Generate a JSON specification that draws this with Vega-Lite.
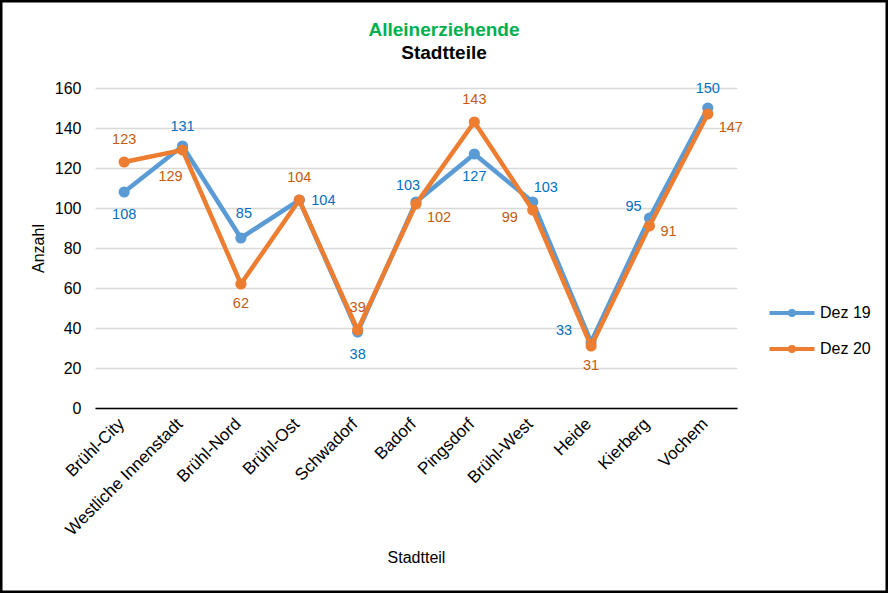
{
  "$schema": "https://vega.github.io/schema/vega-lite/v6.json",
  "width": 888,
  "height": 593,
  "autosize": "none",
  "padding": 0,
  "background": "white",
  "config": {
    "view": {"stroke": "black", "strokeWidth": 5},
    "font": "Liberation Sans"
  },
  "title": {
    "text": "Alleinerziehende",
    "subtitle": "Stadtteile",
    "frame": "group",
    "anchor": "middle",
    "offset": -63,
    "font": "Liberation Sans",
    "fontSize": 19,
    "fontWeight": "bold",
    "color": "#00B050",
    "subtitleFont": "Liberation Sans",
    "subtitleFontSize": 19,
    "subtitleFontWeight": "bold",
    "subtitleColor": "#000000",
    "subtitlePadding": 4
  },
  "data": {
    "values": [
      {"Stadtteil": "Brühl-City", "Serie": "Dez 19", "Anzahl": 108},
      {"Stadtteil": "Westliche Innenstadt", "Serie": "Dez 19", "Anzahl": 131},
      {"Stadtteil": "Brühl-Nord", "Serie": "Dez 19", "Anzahl": 85},
      {"Stadtteil": "Brühl-Ost", "Serie": "Dez 19", "Anzahl": 104},
      {"Stadtteil": "Schwadorf", "Serie": "Dez 19", "Anzahl": 38},
      {"Stadtteil": "Badorf", "Serie": "Dez 19", "Anzahl": 103},
      {"Stadtteil": "Pingsdorf", "Serie": "Dez 19", "Anzahl": 127},
      {"Stadtteil": "Brühl-West", "Serie": "Dez 19", "Anzahl": 103},
      {"Stadtteil": "Heide", "Serie": "Dez 19", "Anzahl": 33},
      {"Stadtteil": "Kierberg", "Serie": "Dez 19", "Anzahl": 95},
      {"Stadtteil": "Vochem", "Serie": "Dez 19", "Anzahl": 150},
      {"Stadtteil": "Brühl-City", "Serie": "Dez 20", "Anzahl": 123},
      {"Stadtteil": "Westliche Innenstadt", "Serie": "Dez 20", "Anzahl": 129},
      {"Stadtteil": "Brühl-Nord", "Serie": "Dez 20", "Anzahl": 62},
      {"Stadtteil": "Brühl-Ost", "Serie": "Dez 20", "Anzahl": 104},
      {"Stadtteil": "Schwadorf", "Serie": "Dez 20", "Anzahl": 39},
      {"Stadtteil": "Badorf", "Serie": "Dez 20", "Anzahl": 102},
      {"Stadtteil": "Pingsdorf", "Serie": "Dez 20", "Anzahl": 143},
      {"Stadtteil": "Brühl-West", "Serie": "Dez 20", "Anzahl": 99},
      {"Stadtteil": "Heide", "Serie": "Dez 20", "Anzahl": 31},
      {"Stadtteil": "Kierberg", "Serie": "Dez 20", "Anzahl": 91},
      {"Stadtteil": "Vochem", "Serie": "Dez 20", "Anzahl": 147}
    ]
  },
  "encoding": {
    "x": {
      "field": "Stadtteil",
      "type": "nominal",
      "sort": null,
      "scale": {
        "type": "point",
        "padding": 0.5,
        "range": [95, 737],
        "domain": ["Brühl-City", "Westliche Innenstadt", "Brühl-Nord", "Brühl-Ost", "Schwadorf", "Badorf", "Pingsdorf", "Brühl-West", "Heide", "Kierberg", "Vochem"]
      },
      "axis": {
        "title": "Stadtteil",
        "offset": -185,
        "labelAngle": -45,
        "labelAlign": "right",
        "labelBaseline": "middle",
        "labelPadding": 13,
        "labelOffset": -3,
        "labelFont": "Liberation Sans",
        "labelFontSize": 17,
        "labelColor": "#000000",
        "ticks": false,
        "domainColor": "#000000",
        "domainWidth": 1.5,
        "grid": false,
        "titleFont": "Liberation Sans",
        "titleFontSize": 16,
        "titleFontWeight": "normal",
        "titleColor": "#000000",
        "titleY": 149,
        "titleBaseline": "middle"
      }
    },
    "y": {
      "field": "Anzahl",
      "type": "quantitative",
      "scale": {"domain": [0, 160], "nice": false, "zero": true, "range": [408, 88]},
      "axis": {
        "title": "Anzahl",
        "offset": -95,
        "values": [0, 20, 40, 60, 80, 100, 120, 140, 160],
        "domain": false,
        "ticks": false,
        "labelPadding": 14,
        "labelFont": "Liberation Sans",
        "labelFontSize": 16,
        "labelColor": "#000000",
        "gridColor": "#D9D9D9",
        "gridWidth": 1.5,
        "titleFont": "Liberation Sans",
        "titleFontSize": 16,
        "titleFontWeight": "normal",
        "titleColor": "#000000",
        "titleX": -57,
        "titleY": 248,
        "titleAngle": -90,
        "titleAlign": "center",
        "titleBaseline": "middle"
      }
    }
  },
  "layer": [
    {
      "transform": [{"filter": {"field": "Serie", "equal": "Dez 19"}}],
      "mark": {"type": "line", "strokeWidth": 4.5},
      "encoding": {
        "color": {
          "field": "Serie", "type": "nominal",
          "scale": {"domain": ["Dez 19", "Dez 20"], "range": ["#5B9BD5", "#ED7D31"]},
          "legend": {
            "title": null,
            "orient": "none",
            "legendX": 784,
            "legendY": 305,
            "padding": 0,
            "symbolType": "M-5,0H5M0.45,0A0.45,0.45,0,1,1,-0.45,0A0.45,0.45,0,1,1,0.45,0",
            "symbolSize": 81,
            "symbolStrokeWidth": 4,
            "symbolFillColor": "transparent",
            "labelOffset": 20,
            "labelFont": "Liberation Sans",
            "labelFontSize": 16,
            "labelColor": "#000000",
            "rowPadding": 14
          }
        }
      }
    },
    {
      "transform": [{"filter": {"field": "Serie", "equal": "Dez 19"}}],
      "mark": {"type": "point", "filled": true, "opacity": 1, "size": 125, "shape": "circle"},
      "encoding": {"color": {"field": "Serie", "type": "nominal"}}
    },
    {
      "transform": [{"filter": {"field": "Serie", "equal": "Dez 20"}}],
      "mark": {"type": "line", "strokeWidth": 4.5},
      "encoding": {"color": {"field": "Serie", "type": "nominal"}}
    },
    {
      "transform": [{"filter": {"field": "Serie", "equal": "Dez 20"}}],
      "mark": {"type": "point", "filled": true, "opacity": 1, "size": 125, "shape": "circle"},
      "encoding": {"color": {"field": "Serie", "type": "nominal"}}
    },
    {
      "transform": [{"filter": {"and": [{"field": "Serie", "equal": "Dez 19"}, {"field": "Stadtteil", "oneOf": ["Brühl-City", "Schwadorf", "Pingsdorf"]}]}}],
      "mark": {"type": "text", "dy": 23, "fontSize": 14.5, "color": "#0070C0", "baseline": "middle"},
      "encoding": {"text": {"field": "Anzahl", "type": "quantitative"}}
    },
    {
      "transform": [{"filter": {"and": [{"field": "Serie", "equal": "Dez 19"}, {"field": "Stadtteil", "oneOf": ["Westliche Innenstadt", "Vochem"]}]}}],
      "mark": {"type": "text", "dy": -19, "fontSize": 14.5, "color": "#0070C0", "baseline": "middle"},
      "encoding": {"text": {"field": "Anzahl", "type": "quantitative"}}
    },
    {
      "transform": [{"filter": {"and": [{"field": "Serie", "equal": "Dez 19"}, {"field": "Stadtteil", "equal": "Brühl-Nord"}]}}],
      "mark": {"type": "text", "dx": 3, "dy": -24, "fontSize": 14.5, "color": "#0070C0", "baseline": "middle"},
      "encoding": {"text": {"field": "Anzahl", "type": "quantitative"}}
    },
    {
      "transform": [{"filter": {"and": [{"field": "Serie", "equal": "Dez 19"}, {"field": "Stadtteil", "equal": "Brühl-Ost"}]}}],
      "mark": {"type": "text", "dx": 12, "dy": 1, "align": "left", "fontSize": 14.5, "color": "#0070C0", "baseline": "middle"},
      "encoding": {"text": {"field": "Anzahl", "type": "quantitative"}}
    },
    {
      "transform": [{"filter": {"and": [{"field": "Serie", "equal": "Dez 19"}, {"field": "Stadtteil", "equal": "Badorf"}]}}],
      "mark": {"type": "text", "dx": -8, "dy": -16, "fontSize": 14.5, "color": "#0070C0", "baseline": "middle"},
      "encoding": {"text": {"field": "Anzahl", "type": "quantitative"}}
    },
    {
      "transform": [{"filter": {"and": [{"field": "Serie", "equal": "Dez 19"}, {"field": "Stadtteil", "equal": "Brühl-West"}]}}],
      "mark": {"type": "text", "dx": 13, "dy": -14, "fontSize": 14.5, "color": "#0070C0", "baseline": "middle"},
      "encoding": {"text": {"field": "Anzahl", "type": "quantitative"}}
    },
    {
      "transform": [{"filter": {"and": [{"field": "Serie", "equal": "Dez 19"}, {"field": "Stadtteil", "equal": "Heide"}]}}],
      "mark": {"type": "text", "dx": -27, "dy": -11, "fontSize": 14.5, "color": "#0070C0", "baseline": "middle"},
      "encoding": {"text": {"field": "Anzahl", "type": "quantitative"}}
    },
    {
      "transform": [{"filter": {"and": [{"field": "Serie", "equal": "Dez 19"}, {"field": "Stadtteil", "equal": "Kierberg"}]}}],
      "mark": {"type": "text", "dx": -16, "dy": -11, "fontSize": 14.5, "color": "#0070C0", "baseline": "middle"},
      "encoding": {"text": {"field": "Anzahl", "type": "quantitative"}}
    },
    {
      "transform": [{"filter": {"and": [{"field": "Serie", "equal": "Dez 20"}, {"field": "Stadtteil", "oneOf": ["Brühl-City", "Brühl-Ost", "Schwadorf", "Pingsdorf"]}]}}],
      "mark": {"type": "text", "dy": -22, "fontSize": 14.5, "color": "#C55A11", "baseline": "middle"},
      "encoding": {"text": {"field": "Anzahl", "type": "quantitative"}}
    },
    {
      "transform": [{"filter": {"and": [{"field": "Serie", "equal": "Dez 20"}, {"field": "Stadtteil", "oneOf": ["Brühl-Nord", "Heide"]}]}}],
      "mark": {"type": "text", "dy": 20, "fontSize": 14.5, "color": "#C55A11", "baseline": "middle"},
      "encoding": {"text": {"field": "Anzahl", "type": "quantitative"}}
    },
    {
      "transform": [{"filter": {"and": [{"field": "Serie", "equal": "Dez 20"}, {"field": "Stadtteil", "equal": "Westliche Innenstadt"}]}}],
      "mark": {"type": "text", "dx": -12, "dy": 27, "fontSize": 14.5, "color": "#C55A11", "baseline": "middle"},
      "encoding": {"text": {"field": "Anzahl", "type": "quantitative"}}
    },
    {
      "transform": [{"filter": {"and": [{"field": "Serie", "equal": "Dez 20"}, {"field": "Stadtteil", "oneOf": ["Badorf", "Vochem"]}]}}],
      "mark": {"type": "text", "dx": 23, "dy": 14, "fontSize": 14.5, "color": "#C55A11", "baseline": "middle"},
      "encoding": {"text": {"field": "Anzahl", "type": "quantitative"}}
    },
    {
      "transform": [{"filter": {"and": [{"field": "Serie", "equal": "Dez 20"}, {"field": "Stadtteil", "equal": "Kierberg"}]}}],
      "mark": {"type": "text", "dx": 19, "dy": 6, "fontSize": 14.5, "color": "#C55A11", "baseline": "middle"},
      "encoding": {"text": {"field": "Anzahl", "type": "quantitative"}}
    },
    {
      "transform": [{"filter": {"and": [{"field": "Serie", "equal": "Dez 20"}, {"field": "Stadtteil", "equal": "Brühl-West"}]}}],
      "mark": {"type": "text", "dx": -23, "dy": 8, "fontSize": 14.5, "color": "#C55A11", "baseline": "middle"},
      "encoding": {"text": {"field": "Anzahl", "type": "quantitative"}}
    }
  ]
}
